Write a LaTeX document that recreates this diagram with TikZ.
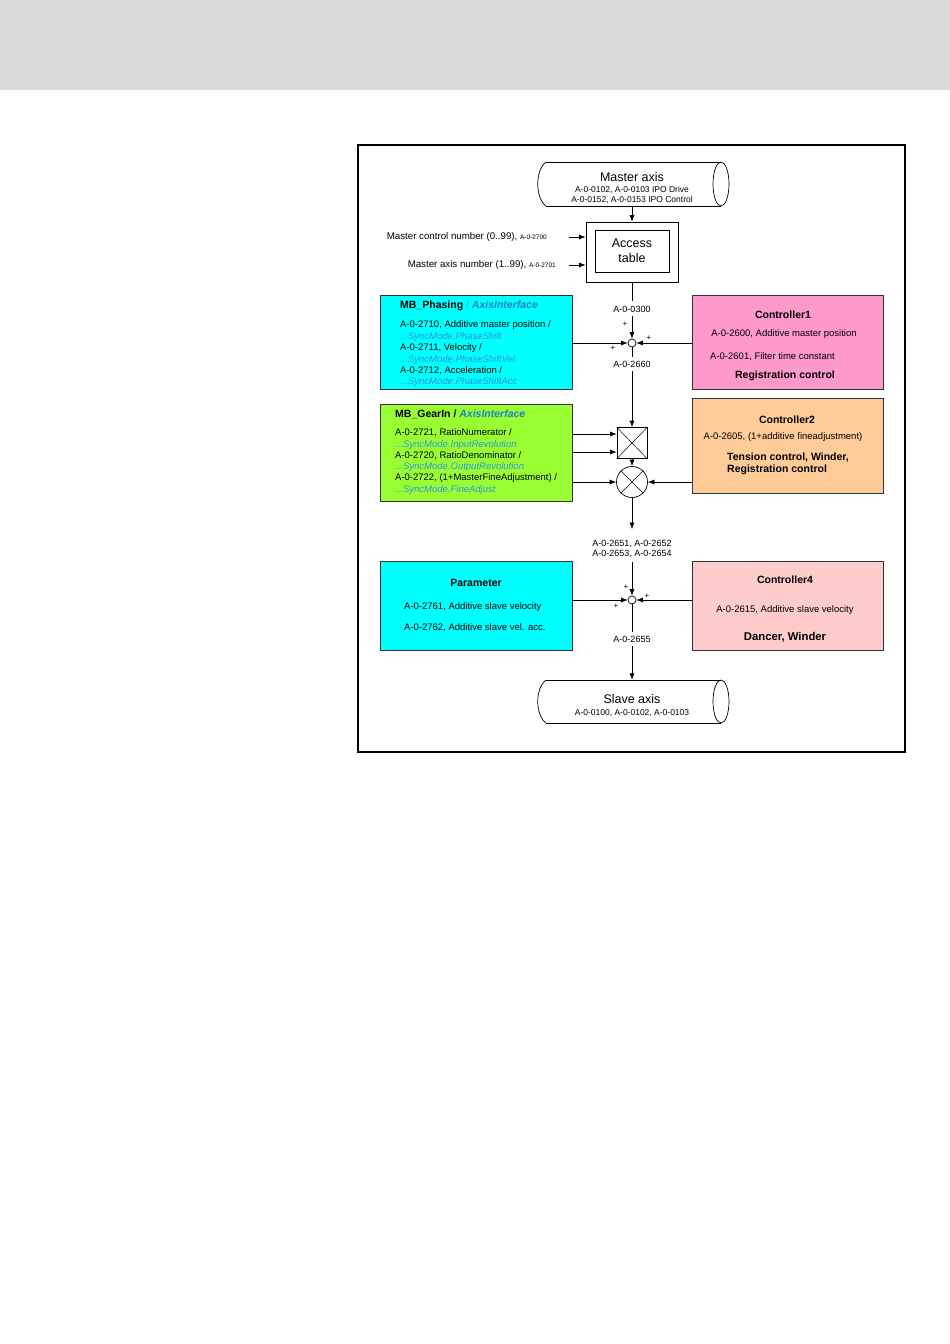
\documentclass[tikz,border=0pt]{standalone}
\usepackage{fontspec}
\setmainfont{Liberation Sans}
\usetikzlibrary{arrows.meta}
\definecolor{headgray}{HTML}{D9D9D9}
\definecolor{cyanbox}{HTML}{00FFFF}
\definecolor{greenbox}{HTML}{99FF33}
\definecolor{pinkbox}{HTML}{FF99CC}
\definecolor{peachbox}{HTML}{FFCC99}
\definecolor{rosebox}{HTML}{FFCCCC}
\definecolor{ifblue}{HTML}{1F80C8}
\definecolor{synblue}{HTML}{2E96D8}
\definecolor{edgec}{HTML}{333333}
\newcommand{\myfs}[1]{\fontsize{#1}{#1}\selectfont}
\newcommand{\syn}[1]{\textcolor{synblue}{\itshape #1}}
\tikzset{
  panel/.style={draw=edgec, line width=0.8pt, inner sep=0},
  body/.style={font=\myfs{9.5}, inner sep=0, anchor=west},
  bodyc/.style={font=\myfs{9.5}, inner sep=0},
  ttl/.style={font=\bfseries\myfs{10.5}, inner sep=0},
  lbl/.style={font=\myfs{9}, inner xsep=1pt, inner ysep=0pt, align=center},
  plus/.style={font=\myfs{8}, inner sep=0},
  arr/.style={-{Latex[length=6.5pt,width=5pt]}, line width=0.7pt},
  ln/.style={line width=0.7pt},
}
\begin{document}
\begin{tikzpicture}[x=1pt,y=-1pt]
\useasboundingbox (0,0) rectangle (950,1344);
\fill[headgray] (0,0) rectangle (950,90);
\draw[line width=2pt] (358,145) rectangle (905,752);

% Master axis cylinder
\node[minimum width=180pt, minimum height=44pt, inner sep=0] (ma) at (632,184) {};
\draw[ln] (546,162) .. controls (535,170) and (535,198) .. (546,206);
\draw[ln] (546,162) -- (721,162);
\draw[ln] (546,206) -- (721,206);
\draw[ln] (721,184) ellipse [x radius=8, y radius=22];
\node[font=\myfs{12.5}, inner sep=0] (mat) at (632,177) {Master axis};
\node[font=\myfs{8.5}, inner sep=0] (ma1) at (632,190) {A-0-0102, A-0-0103 IPO Drive};
\node[font=\myfs{8.5}, inner sep=0] (ma2) at (632,200) {A-0-0152, A-0-0153 IPO Control};

% Access table
\node[draw=black, line width=0.8pt, minimum width=92pt, minimum height=60pt, inner sep=0] (acc) at (632,252) {};
\node[draw=black, line width=0.7pt, minimum width=74pt, minimum height=42pt, inner sep=0, font=\myfs{12.5}, align=center] (acci) at (632,251) {Access\\[2pt]table};
\draw[arr] (ma.south) -- (acc.north);

\node[font=\myfs{9.7}, anchor=east, inner sep=0] (mcn) at (547,237) {Master control number (0..99), {\myfs{6.5}A-0-2700}};
\node[font=\myfs{9.7}, anchor=east, inner sep=0] (man) at (556,265) {Master axis number (1..99), {\myfs{6.5}A-0-2701}};
\coordinate (mcs) at ([xshift=22pt]mcn.east);
\coordinate (mas) at ([xshift=13pt]man.east);
\draw[arr] (mcs) -- (mcs -| acc.west);
\draw[arr] (mas) -- (mas -| acc.west);

% Panels
\node[panel, fill=cyanbox, minimum width=192pt, minimum height=94pt] (ph) at (476,342) {};
\node[panel, fill=pinkbox, minimum width=191pt, minimum height=94pt] (c1) at (787.5,342) {};
\node[panel, fill=greenbox, minimum width=192pt, minimum height=97pt] (gi) at (476,452.5) {};
\node[panel, fill=peachbox, minimum width=191pt, minimum height=95pt] (c2) at (787.5,445.5) {};
\node[panel, fill=cyanbox, minimum width=192pt, minimum height=89pt] (pa) at (476,605.5) {};
\node[panel, fill=rosebox, minimum width=191pt, minimum height=89pt] (c4) at (787.5,605.5) {};

% MB_Phasing texts
\node[ttl, anchor=west] (pht) at (400,306) {MB\_Phasing\textcolor{synblue}{\mdseries\ /\ }\textcolor{ifblue}{\itshape AxisInterface}};
\node[body] (ph1) at (400,325) {A-0-2710, Additive master position /};
\node[body] (ph2) at (400,337) {\syn{...SyncMode.PhaseShift}};
\node[body] (ph3) at (400,348) {A-0-2711, Velocity /};
\node[body] (ph4) at (400,360) {\syn{...SyncMode.PhaseShiftVel}};
\node[body] (ph5) at (400,371) {A-0-2712, Acceleration /};
\node[body] (ph6) at (400,382) {\syn{...SyncMode.PhaseShiftAcc}};

% Controller1
\node[ttl] (c1t) at (783,315) {Controller1};
\node[bodyc] (c11) at (784,334) {A-0-2600, Additive master position};
\node[body] (c12) at (710,357) {A-0-2601, Filter time constant};
\node[ttl] (c13) at (785,376) {Registration control};

% MB_GearIn
\node[ttl, anchor=west] (git) at (395,414) {MB\_GearIn / \textcolor{ifblue}{\itshape AxisInterface}};
\node[body] (gi1) at (395,433) {A-0-2721, RatioNumerator /};
\node[body] (gi2) at (395,445) {\syn{...SyncMode.InputRevolution}};
\node[body] (gi3) at (395,456) {A-0-2720, RatioDenominator /};
\node[body] (gi4) at (395,467) {\syn{...SyncMode.OutputRevolution}};
\node[body] (gi5) at (395,478) {A-0-2722, (1+MasterFineAdjustment) /};
\node[body] (gi6) at (395,490) {\syn{...SyncMode.FineAdjust}};

% Controller2
\node[ttl] (c2t) at (787,420) {Controller2};
\node[bodyc] (c21) at (783,437) {A-0-2605, (1+additive fineadjustment)};
\node[ttl, anchor=west] (c22) at (727,458) {Tension control, Winder,};
\node[ttl, anchor=west] (c23) at (727,470) {Registration control};

% Parameter
\node[ttl] (pat) at (476,583) {Parameter};
\node[body] (pa1) at (404,607) {A-0-2761, Additive slave velocity};
\node[body] (pa2) at (404,628) {A-0-2762, Additive slave vel. acc.};

% Controller4
\node[ttl] (c4t) at (785,580) {Controller4};
\node[bodyc] (c41) at (785,610) {A-0-2615, Additive slave velocity};
\node[font=\bfseries\myfs{11.3}, inner sep=0] (c42) at (785,637) {Dancer, Winder};

% Labels on the main line
\node[lbl] (l300) at (632,309) {A-0-0300};
\node[lbl] (l660) at (632,364) {A-0-2660};
\node[lbl] (lb) at (632,549) {A-0-2651, A-0-2652\\[1pt]A-0-2653, A-0-2654};
\node[lbl] (l655) at (632,639) {A-0-2655};

% Junction 1
\node[circle, draw, fill=white, line width=0.7pt, minimum size=8pt, inner sep=0] (j1) at (632,343) {};
\draw[ln] (acc.south) -- ([yshift=5pt]l300.north);
\draw[arr] ([yshift=-4pt]l300.south) -- (j1.north);
\draw[arr] (ph.east |- j1) -- (j1.west);
\draw[arr] (c1.west |- j1) -- (j1.east);
\node[plus] (p11) at (625,324) {+};
\node[plus] (p12) at (613,348) {+};
\node[plus] (p13) at (649,338) {+};

% Multiplier box and circle
\node[draw, line width=0.7pt, minimum width=30pt, minimum height=31pt, inner sep=0] (mb) at (632,443) {};
\draw[line width=0.5pt] (mb.north west) -- (mb.south east);
\draw[line width=0.5pt] (mb.north east) -- (mb.south west);
\node[circle, draw, line width=0.7pt, minimum size=31pt, inner sep=0] (mx) at (632,482) {};
\draw[line width=0.5pt] (mx.north west) -- (mx.south east);
\draw[line width=0.5pt] (mx.north east) -- (mx.south west);
\draw[ln] (j1.south) -- ([yshift=4pt]l660.north);
\draw[arr] ([yshift=-4pt]l660.south) -- (mb.north);
\draw[arr] (mb.south) -- (mx.north);
\coordinate (g1) at (gi.east |- 0,434);
\coordinate (g2) at (gi.east |- 0,452);
\draw[arr] (g1) -- (g1 -| mb.west);
\draw[arr] (g2) -- (g2 -| mb.west);
\draw[arr] (gi.east |- mx) -- (mx.west);
\draw[arr] (c2.west |- mx) -- (mx.east);

% Label block arrow
\draw[arr] (mx.south) -- ([yshift=11pt]lb.north);

% Junction 2
\node[circle, draw, fill=white, line width=0.7pt, minimum size=8pt, inner sep=0] (j2) at (632,600) {};
\draw[arr] ([yshift=-4pt]lb.south) -- (j2.north);
\draw[arr] (pa.east |- j2) -- (j2.west);
\draw[arr] (c4.west |- j2) -- (j2.east);
\node[plus] (p21) at (626,587) {+};
\node[plus] (p22) at (616,606) {+};
\node[plus] (p23) at (647,596) {+};

% Slave axis
\node[minimum width=180pt, minimum height=43pt, inner sep=0] (sl) at (632,701.5) {};
\draw[ln] (546,680) .. controls (535,688) and (535,715) .. (546,723);
\draw[ln] (546,680) -- (721,680);
\draw[ln] (546,723) -- (721,723);
\draw[ln] (721,701.5) ellipse [x radius=8, y radius=21.5];
\draw[ln] (j2.south) -- ([yshift=4pt]l655.north);
\draw[arr] ([yshift=-4pt]l655.south) -- (sl.north);
\node[font=\myfs{12.5}, inner sep=0] (slt) at (632,699) {Slave axis};
\node[font=\myfs{8.5}, inner sep=0] (sl1) at (632,713) {A-0-0100, A-0-0102, A-0-0103};
\end{tikzpicture}
\end{document}
